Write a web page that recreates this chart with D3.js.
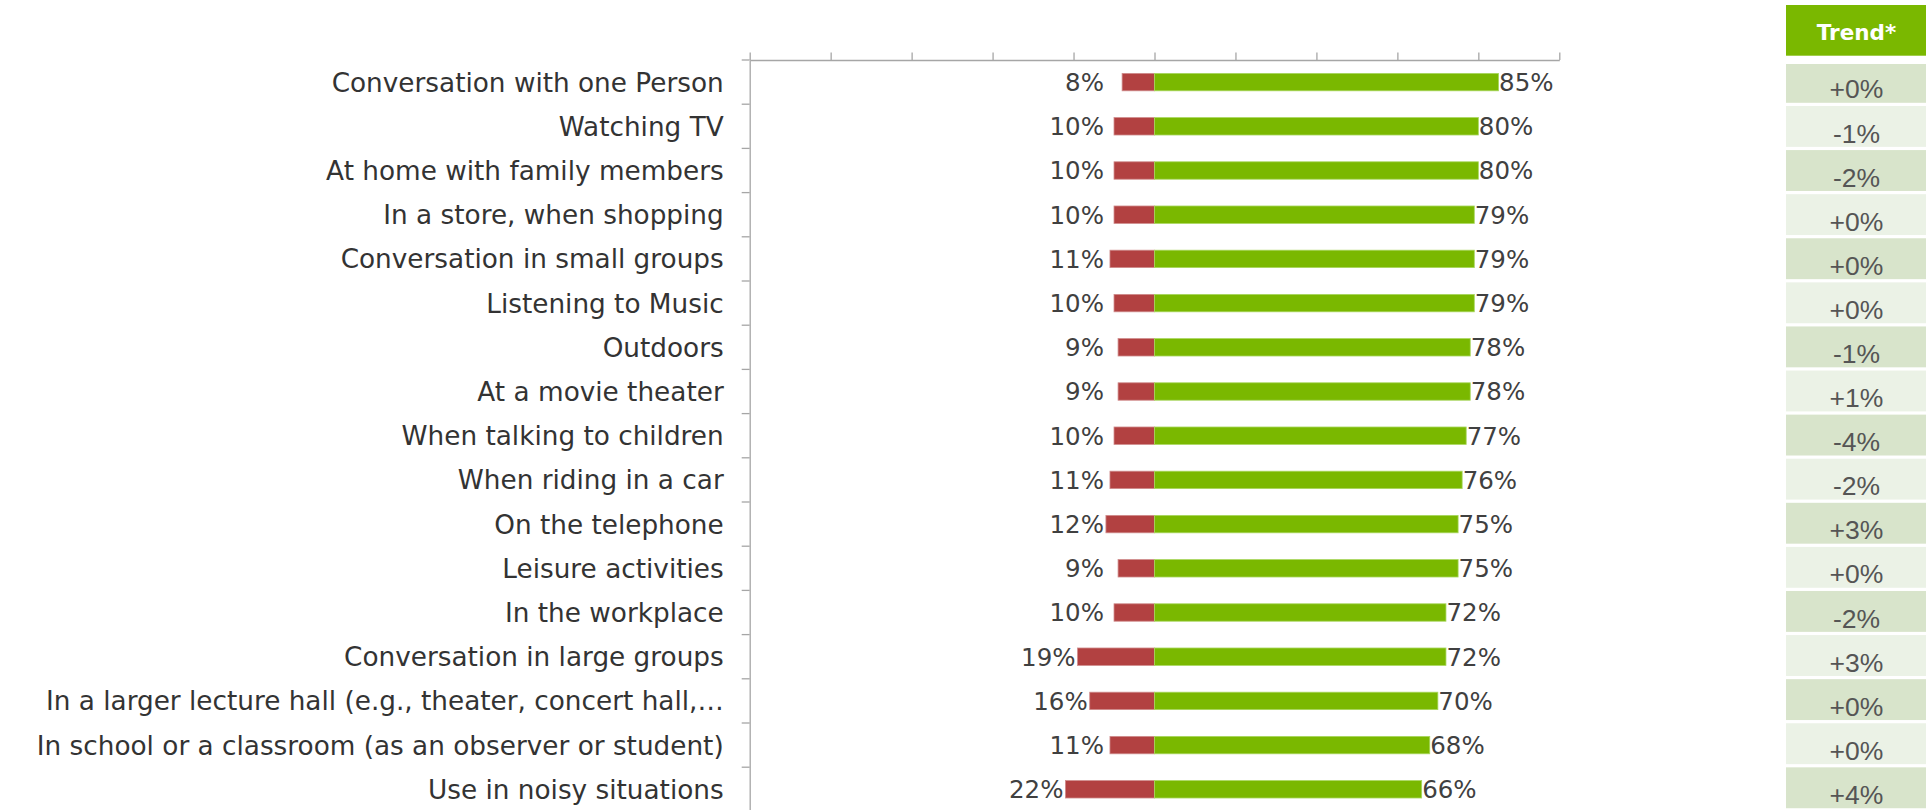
<!DOCTYPE html>
<html>
<head>
<meta charset="utf-8">
<script src="https://cdn.jsdelivr.net/npm/d3@7"></script>
<style>
  html, body { margin: 0; padding: 0; background: #ffffff; }
  svg { display: block; }
</style>
</head>
<body>
<svg id="chart" width="1926" height="810"></svg>
<script>
// Usage situations, share rated negatively (left) and positively (right), plus trend
const categories = [
  "Conversation with one Person",
  "Watching TV",
  "At home with family members",
  "In a store, when shopping",
  "Conversation in small groups",
  "Listening to Music",
  "Outdoors",
  "At a movie theater",
  "When talking to children",
  "When riding in a car",
  "On the telephone",
  "Leisure activities",
  "In the workplace",
  "Conversation in large groups",
  "In a larger lecture hall (e.g., theater, concert hall,\u2026",
  "In school or a classroom (as an observer or student)",
  "Use in noisy situations"
];
const negative = [8, 10, 10, 10, 11, 10, 9, 9, 10, 11, 12, 9, 10, 19, 16, 11, 22];
const positive = [85, 80, 80, 79, 79, 79, 78, 78, 77, 76, 75, 75, 72, 72, 70, 68, 66];
const trend = ["+0%", "-1%", "-2%", "+0%", "+0%", "+0%", "-1%", "+1%", "-4%", "-2%", "+3%", "+0%", "-2%", "+3%", "+0%", "+0%", "+4%"];
const xTicks = [-100, -80, -60, -40, -20, 0, 20, 40, 60, 80, 100];
const trendTitle = "Trend*";

const svg = d3.select("#chart");

const RED = "#b24141", GREEN = "#7ab800";
const AXIS = "#a6a6a6", TEXT = "#404040";
const labelFont = "'DejaVu Sans', Verdana, sans-serif";

const x = d3.scaleLinear().domain([-100, 100]).range([749.7, 1559.3]);
const y = d3.scaleBand().domain(categories).range([60, 811.4])
  .paddingInner(0.606).paddingOuter(0.303);
const step = y.step();

// top value axis (tick marks only)
const topAxis = svg.append("g")
  .attr("transform", `translate(0,${60})`)
  .call(d3.axisTop(x).tickValues(xTicks).tickSize(7.5).tickSizeOuter(0).tickFormat(""));
topAxis.select(".domain").attr("stroke", AXIS).attr("stroke-width", 1.3);
topAxis.selectAll(".tick line").attr("stroke", AXIS).attr("stroke-width", 1.3);

// category axis
const catFs = 26.3;
const leftAxis = svg.append("g")
  .attr("transform", `translate(${x(-100)},0)`)
  .call(d3.axisLeft(y).tickSize(0).tickSizeOuter(0).tickPadding(26));
leftAxis.select(".domain").attr("stroke", AXIS).attr("stroke-width", 1.3);
leftAxis.selectAll(".tick text")
  .attr("font-family", labelFont)
  .attr("font-size", catFs)
  .attr("fill", "#333333")
  .attr("dy", null)
  .attr("y", 0.364 * catFs);

// tick marks on the boundaries between categories
svg.append("g").selectAll("line")
  .data(d3.range(categories.length + 1))
  .join("line")
  .attr("x1", x(-100) - 8).attr("x2", x(-100))
  .attr("y1", i => 60 + i * step).attr("y2", i => 60 + i * step)
  .attr("stroke", AXIS).attr("stroke-width", 1.3);

// bars
const bars = svg.append("g");
bars.selectAll("rect.neg")
  .data(categories)
  .join("rect")
  .attr("class", "neg")
  .attr("x", (c, i) => x(-negative[i]))
  .attr("y", c => y(c))
  .attr("width", (c, i) => x(0) - x(-negative[i]))
  .attr("height", y.bandwidth())
  .attr("fill", RED)
  .attr("stroke", "#cf8b8b").attr("stroke-width", 0.8);
bars.selectAll("rect.pos")
  .data(categories)
  .join("rect")
  .attr("class", "pos")
  .attr("x", x(0))
  .attr("y", c => y(c))
  .attr("width", (c, i) => x(positive[i]) - x(0))
  .attr("height", y.bandwidth())
  .attr("fill", GREEN)
  .attr("stroke", "#a8d65e").attr("stroke-width", 0.8);

// value labels
const valFs = 24.5;
const labels = svg.append("g")
  .attr("font-family", labelFont)
  .attr("font-size", valFs)
  .attr("fill", TEXT);
labels.selectAll("text.neg")
  .data(categories)
  .join("text")
  .attr("class", "neg")
  .attr("text-anchor", "end")
  .attr("x", (c, i) => Math.min(x(-negative[i]), x(-12)) - 2)
  .attr("y", c => y(c) + y.bandwidth() / 2 + 0.364 * valFs)
  .text((c, i) => negative[i] + "%");
labels.selectAll("text.pos")
  .data(categories)
  .join("text")
  .attr("class", "pos")
  .attr("x", (c, i) => x(positive[i]) + 0.5)
  .attr("y", c => y(c) + y.bandwidth() / 2 + 0.364 * valFs)
  .text((c, i) => positive[i] + "%");

// trend column
const tx0 = 1786, tx1 = 1930, tcx = 1856.5;
const trendG = svg.append("g");
trendG.append("rect")
  .attr("x", tx0).attr("y", 5).attr("width", tx1 - tx0).attr("height", 50.7)
  .attr("fill", GREEN);
trendG.append("text")
  .attr("x", tcx).attr("y", 40)
  .attr("text-anchor", "middle")
  .attr("font-family", labelFont)
  .attr("font-weight", "bold")
  .attr("font-size", 21.5)
  .attr("fill", "#ffffff")
  .text(trendTitle);

const ty = d3.scaleBand().domain(categories).range([61.9, 61.9 + 17 * 44.09]);
trendG.selectAll("rect.cell")
  .data(categories)
  .join("rect")
  .attr("class", "cell")
  .attr("x", tx0)
  .attr("y", c => Math.max(ty(c), 64))
  .attr("width", tx1 - tx0)
  .attr("height", c => ty(c) + ty.step() - 3.2 - Math.max(ty(c), 64))
  .attr("fill", (c, i) => i % 2 === 0 ? "#d8e4cb" : "#ebf2e6");
trendG.selectAll("text.cell")
  .data(categories)
  .join("text")
  .attr("class", "cell")
  .attr("x", tcx)
  .attr("y", c => ty(c) + ty.step() - 3.2 - 4.3)
  .attr("text-anchor", "middle")
  .attr("font-family", "'Liberation Sans', Arial, sans-serif")
  .attr("font-size", 26.5)
  .attr("fill", "#555555")
  .text((c, i) => trend[i]);
</script>
</body>
</html>
